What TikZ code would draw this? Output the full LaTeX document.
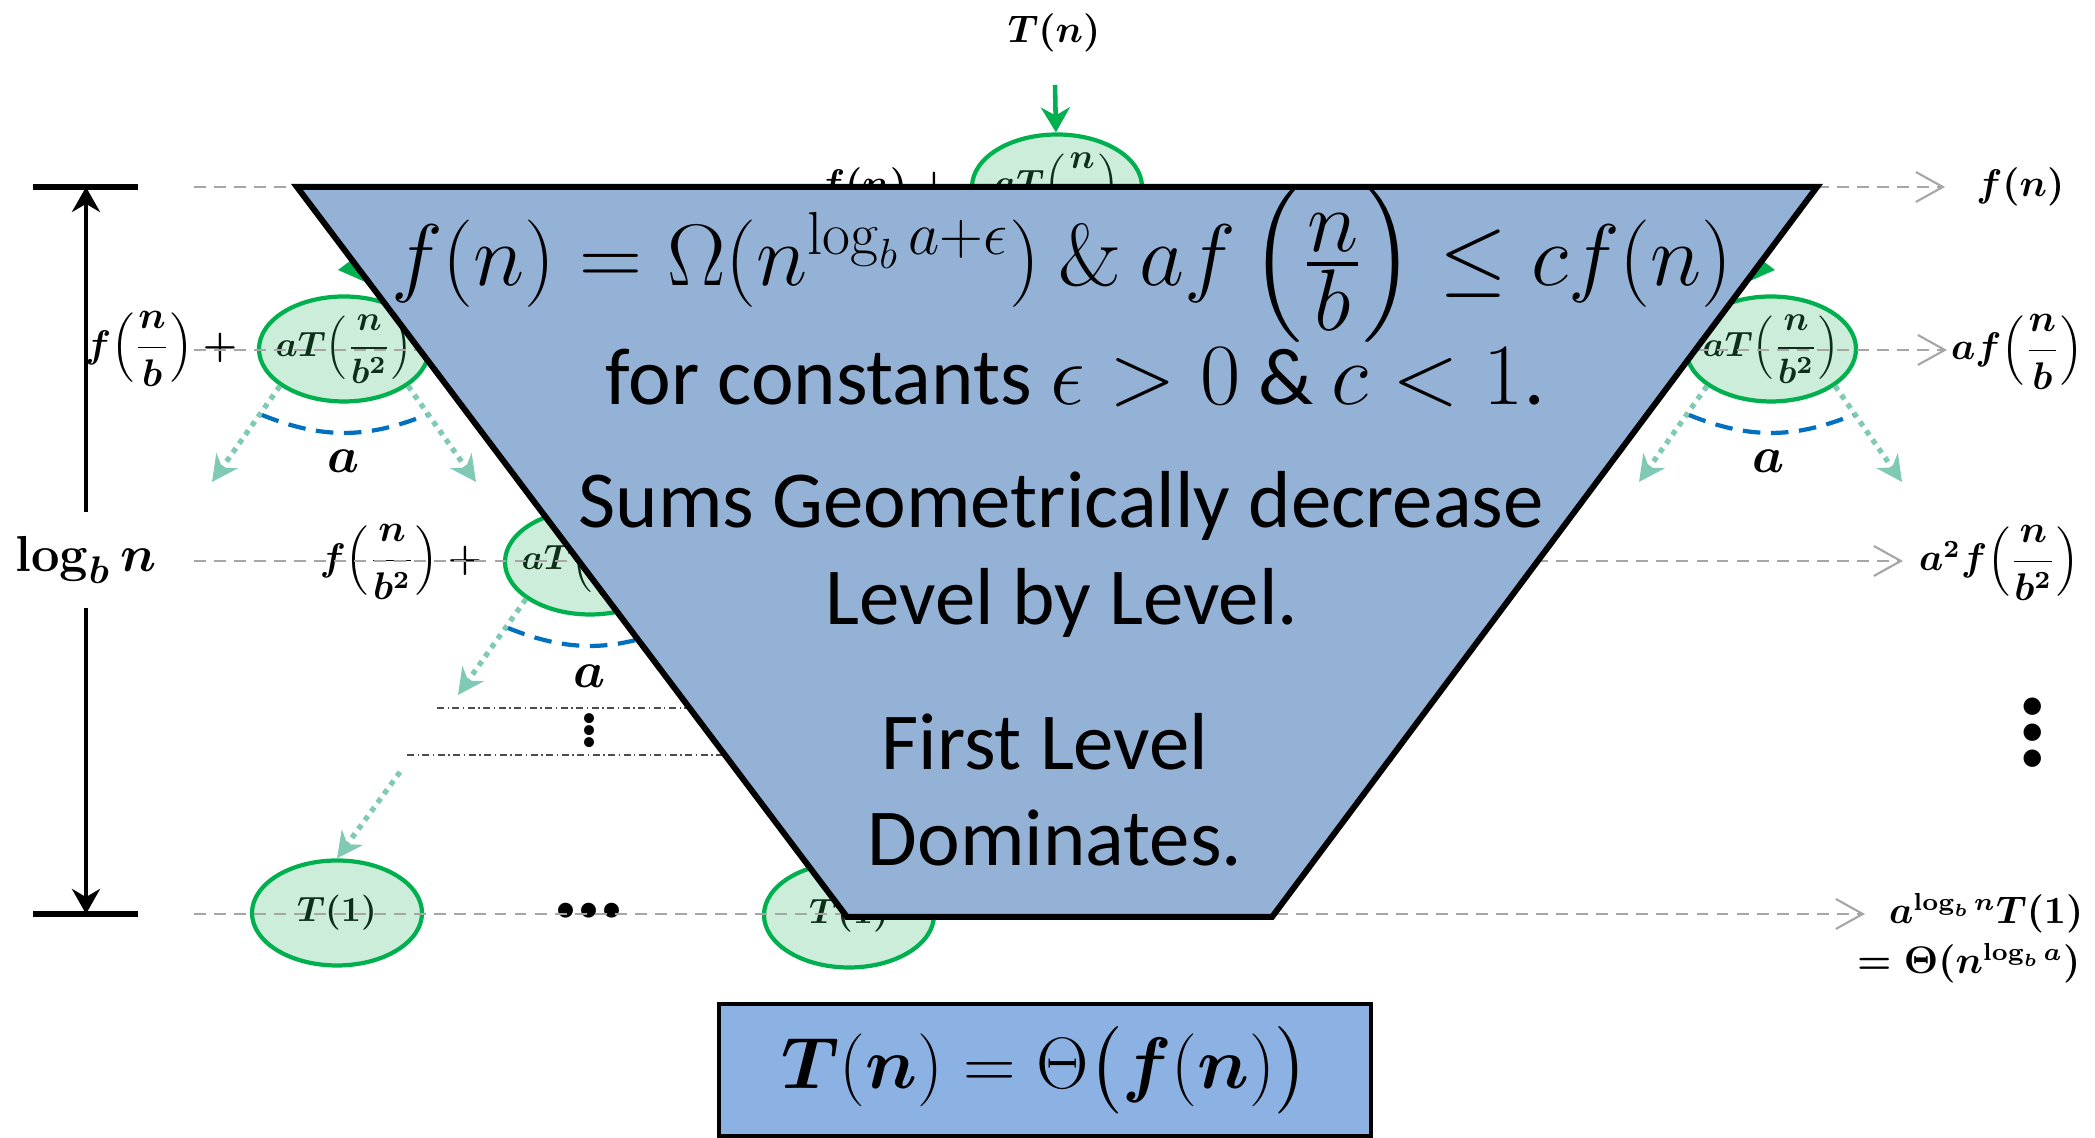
\documentclass[tikz,border=0pt]{standalone}
\usepackage[no-math]{fontspec}
\setmainfont{Carlito}
\usepackage{amsmath}
\usepackage{bm}
\usepackage{tikz}
\usetikzlibrary{arrows.meta,calc,positioning,shapes.geometric}
\definecolor{ellgreen}{rgb}{0.00,0.69,0.31}
\definecolor{ellfill}{rgb}{0.80,0.93,0.85}
\definecolor{ellink}{rgb}{0.05,0.18,0.10}
\definecolor{splitteal}{rgb}{0.50,0.79,0.71}
\definecolor{fanblue}{rgb}{0.00,0.44,0.75}
\definecolor{lvlgray}{rgb}{0.65,0.65,0.65}
\definecolor{trapblue}{rgb}{0.58,0.70,0.84}
\definecolor{boxblue}{rgb}{0.55,0.70,0.89}
\newcommand{\stackdots}[1]{\vbox{\baselineskip=#1\lineskiplimit=-20pt\hbox{\textbullet}\hbox{\textbullet}\hbox{\textbullet}}}
\tikzset{
  sub/.style={
    ellipse,
    draw=ellgreen,
    line width=1.2pt,
    fill=ellfill,
    text=ellink,
    minimum width=1.7cm,
    minimum height=1.05cm,
    inner xsep=-1cm,
    inner ysep=-1cm,
    font=\fontsize{10}{12}\selectfont\boldmath
  },
  lab/.style={
    inner sep=0pt,
    font=\fontsize{10.5}{13}\selectfont\boldmath
  },
  lvl/.style={
    draw=lvlgray,
    line width=0.7pt,
    dash pattern=on 3.4pt off 2.3pt,
    -{Straight Barb[length=2.7mm,width=3mm,line width=0.6pt]}
  },
  split/.style={
    draw=splitteal,
    line width=1.5pt,
    dash pattern=on 1.5pt off 1.6pt,
    -{Stealth[length=2.6mm,width=2.6mm,fill=splitteal]}
  },
  fan/.style={
    draw=fanblue,
    line width=1.2pt,
    dash pattern=on 5pt off 3pt
  },
  feed/.style={
    draw=ellgreen,
    line width=1.3pt,
    -{Stealth[length=2.5mm,width=2.9mm]}
  },
  levelspan/.style={
    draw=black,
    line width=1.2pt,
    -{Stealth[length=2.5mm,width=2.8mm]}
  },
  endbar/.style={
    draw=black,
    line width=1.7pt
  },
  sepline/.style={
    draw=black!70,
    line width=0.3pt,
    dash pattern=on 2pt off 1pt on 0.4pt off 1pt
  },
  trap/.style={
    draw=black,
    line width=1.7pt,
    fill=trapblue
  },
  trtext/.style={
    anchor=base,
    inner sep=0pt,
    font=\fontsize{23}{28}\selectfont
  },
  result/.style={
    draw=black,
    line width=1.2pt,
    fill=boxblue,
    minimum width=6.52cm,
    minimum height=1.32cm,
    font=\fontsize{22}{26}\selectfont
  }
}
\begin{document}
\begin{tikzpicture}
\useasboundingbox (0,0) rectangle (20.95,11.38);

% depth of the recursion
\coordinate (top) at (0.86,9.51);
\coordinate (bot) at (0.86,2.24);
\draw[endbar] ([xshift=-0.53cm]top) -- ([xshift=0.52cm]top);
\draw[endbar] ([xshift=-0.53cm]bot) -- ([xshift=0.52cm]bot);
\node[lab, inner sep=4pt, font=\fontsize{15}{18}\selectfont\boldmath] (logn) at (0.86,5.78) {$\log_b n$};
\draw[levelspan, shorten <=1mm] (logn) -- (top);
\draw[levelspan, shorten <=1mm] (logn) -- (bot);

% recursion tree
\node[lab] (tn) at (10.54,11.05) {$T(n)$};
\node[sub] (root) at (10.57,9.51) {$aT\Bigl(\dfrac{n}{b}\Bigr)$};
\node[lab, left=0.08cm of root] (root-f) {$f(n)+{}$};
\draw[feed, shorten <=3.2mm] (tn) -- (root);

\node[sub] (l1a) at (3.44,7.89) {$aT\Bigl(\dfrac{n}{b^2}\Bigr)$};
\node[lab, left=0.09cm of l1a] (l1a-f) {$f\Bigl(\dfrac{n}{b}\Bigr)+{}$};
\node[sub] (l1b) at (17.71,7.89) {$aT\Bigl(\dfrac{n}{b^2}\Bigr)$};
\node[lab, left=0.09cm of l1b] (l1b-f) {$f\Bigl(\dfrac{n}{b}\Bigr)+{}$};
\coordinate (t1a) at (3.38,8.68);
\coordinate (t1b) at (17.75,8.68);
\draw[feed] (root) -- (t1a);
\draw[feed] (root) -- (t1b);

\coordinate (l1a-l) at (2.12,6.56);
\coordinate (l1a-r) at (4.76,6.56);
\draw[split] (l1a.210) -- (l1a-l);
\draw[split] (l1a.330) -- (l1a-r);
\draw[fan] ($(l1a)+(-0.82,-0.66)$) to[bend right=22] ($(l1a)+(0.82,-0.66)$);
\node[lab, font=\fontsize{14}{16}\selectfont\boldmath] (l1a-a) at (3.44,6.77) {$a$};

\coordinate (l1b-l) at (16.39,6.56);
\coordinate (l1b-r) at (19.02,6.56);
\draw[split] (l1b.210) -- (l1b-l);
\draw[split] (l1b.330) -- (l1b-r);
\draw[fan] ($(l1b)+(-0.82,-0.66)$) to[bend right=22] ($(l1b)+(0.82,-0.66)$);
\node[lab, font=\fontsize{14}{16}\selectfont\boldmath] (l1b-a) at (17.68,6.77) {$a$};

\node[sub] (l2a) at (5.90,5.76) {$aT\Bigl(\dfrac{n}{b^3}\Bigr)$};
\node[lab, left=0.1cm of l2a] (l2a-f) {$f\Bigl(\dfrac{n}{b^2}\Bigr)+{}$};
\coordinate (l2a-l) at (4.58,4.43);
\coordinate (l2a-r) at (7.22,4.43);
\draw[split] (l2a.210) -- (l2a-l);
\draw[split] (l2a.330) -- (l2a-r);
\draw[fan] ($(l2a)+(-0.82,-0.66)$) to[bend right=22] ($(l2a)+(0.82,-0.66)$);
\node[lab, font=\fontsize{14}{16}\selectfont\boldmath] (l2a-a) at (5.90,4.62) {$a$};

\draw[sepline] (4.37,4.30) -- (7.6,4.30);
\draw[sepline] (4.07,3.83) -- (7.9,3.83);
\node[inner sep=0pt, font=\fontsize{8}{8}\selectfont] (vd) at (5.89,4.06) {\stackdots{3.5pt}};

\coordinate (l3-s) at (4.00,3.66);
\node[sub] (l3a) at (3.37,2.25) {$T(1)$};
\node[sub] (l3b) at (8.49,2.23) {$T(1)$};
\draw[split] (l3-s) -- (l3a.north);
\node[inner sep=0pt, font=\fontsize{12}{14}\selectfont] (hd) at (5.89,2.25) {\makebox[6.6pt]{\textbullet}\makebox[6.6pt]{\textbullet}\makebox[6.6pt]{\textbullet}};

% sums per level
\coordinate (s0) at (1.94,9.51);
\coordinate (s1) at (1.94,7.88);
\coordinate (s2) at (1.94,5.77);
\coordinate (s3) at (1.94,2.24);
\coordinate (e0) at (19.45,9.51);
\coordinate (e1) at (19.47,7.88);
\coordinate (e2) at (19.03,5.77);
\coordinate (e3) at (18.65,2.24);
\node[lab, anchor=base east] (r0) at (20.65,9.41) {$f(n)$};
\node[lab, anchor=base east] (r1) at (20.84,7.78) {$af\Bigl(\dfrac{n}{b}\Bigr)$};
\node[lab, anchor=base east] (r2) at (20.80,5.67) {$a^2f\Bigl(\dfrac{n}{b^2}\Bigr)$};
\node[lab, anchor=base east] (r3) at (20.84,2.14) {$a^{\log_b n}T(1)$};
\node[lab, anchor=base east] (r3b) at (20.81,1.64) {$=\Theta(n^{\log_b a})$};
\draw[lvl] (s0) -- (e0);
\draw[lvl] (s1) -- (e1);
\draw[lvl] (s2) -- (e2);
\draw[lvl] (s3) -- (e3);
\node[inner sep=0pt, font=\fontsize{14}{14}\selectfont] (rd) at (20.33,4.03) {\stackdots{7.4pt}};

% case 3 summary
\coordinate (tl) at (2.97,9.51);
\coordinate (tr) at (18.17,9.51);
\coordinate (br) at (12.72,2.21);
\coordinate (bl) at (8.47,2.21);
\draw[trap] (tl) -- (tr) -- (br) -- (bl) -- cycle;
\node[trtext] (cond) at (10.62,8.52) {$f(n)=\Omega(n^{\log_b a+\epsilon})\ \&\ af\left(\frac{\textstyle n}{\textstyle b}\right)\le cf(n)$};
\node[trtext] (consts) at (10.75,7.33) {for constants $\epsilon>0$ \& $c<1$.};
\node[trtext] (sums) at (10.61,6.10) {Sums Geometrically decrease};
\node[trtext] (lbl) at (10.62,5.13) {Level by Level.};
\node[trtext] (first) at (10.45,3.68) {First Level};
\node[trtext] (dom) at (10.55,2.72) {Dominates.};

\node[result] (res) at (10.45,0.68) {$\bm{T}(\bm{n})=\Theta\bigl(\bm{f}(\bm{n})\bigr)$};
\end{tikzpicture}
\end{document}
